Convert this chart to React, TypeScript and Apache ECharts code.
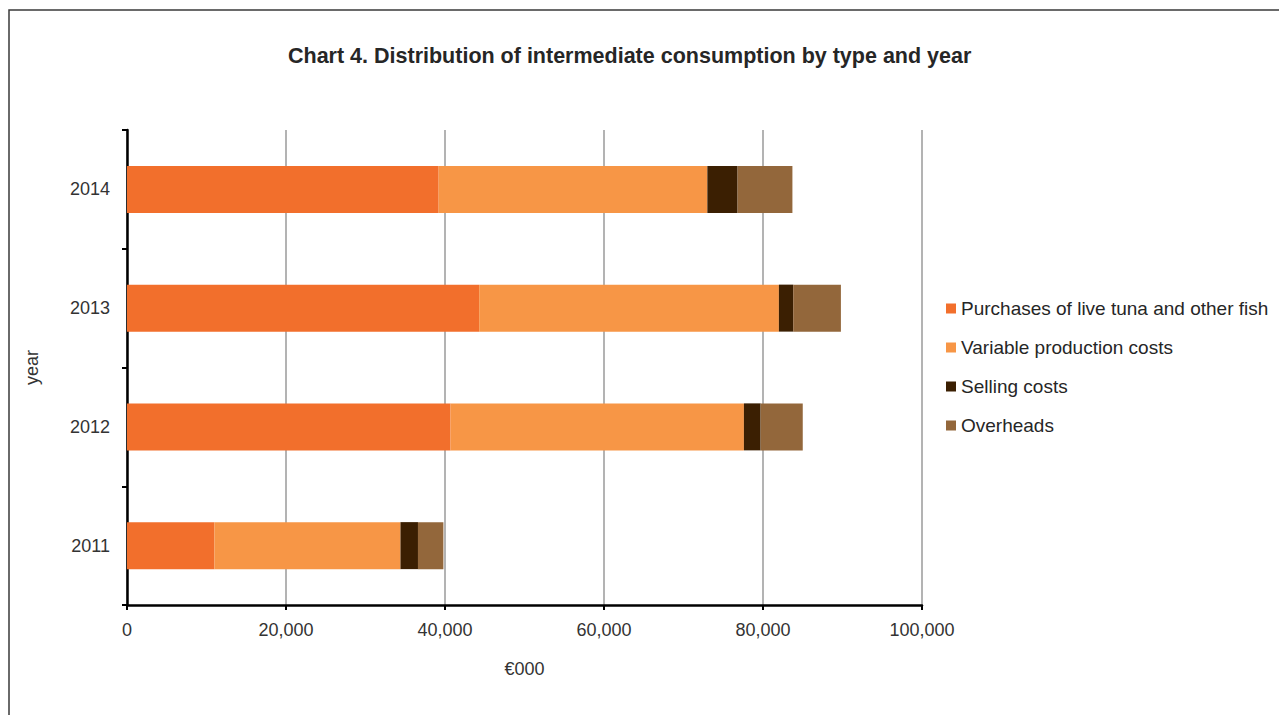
import React, { useEffect, useRef } from "react";
import * as echarts from "echarts";

// Intermediate consumption by type, € thousand
const years = ["2011", "2012", "2013", "2014"];
const purchases = [11000, 40700, 44300, 39200];
const variableCosts = [23400, 36900, 37700, 33800];
const sellingCosts = [2200, 2100, 1800, 3800];
const overheads = [3200, 5300, 6000, 6900];

const seriesNames = [
  "Purchases of live tuna and other fish",
  "Variable production costs",
  "Selling costs",
  "Overheads",
];
const seriesColors = ["#F26F2C", "#F79646", "#3B1F02", "#93673B"];

const FONT = "'Liberation Sans', Arial, sans-serif";

export default function App() {
  const ref = useRef<HTMLDivElement>(null);

  useEffect(() => {
    if (!ref.current) return;
    const chart = echarts.init(ref.current, null, { renderer: "svg" });
    const values = [purchases, variableCosts, sellingCosts, overheads];

    chart.setOption({
      animation: false,
      backgroundColor: "#ffffff",
      textStyle: { fontFamily: FONT },
      title: {
        text: "Chart 4. Distribution of intermediate consumption by type and year",
        left: 283,
        top: 40,
        textStyle: { fontFamily: FONT, fontSize: 21.5, fontWeight: "bold", color: "#262626" },
      },
      graphic: [
        {
          type: "rect",
          shape: { x: 9, y: 10, width: 1400, height: 900 },
          style: { fill: "none", stroke: "#3a3a3a", lineWidth: 1.5 },
          silent: true,
          z: -1,
        },
      ],
      legend: {
        orient: "vertical",
        left: 941,
        top: 294,
        itemWidth: 10,
        itemHeight: 10,
        itemGap: 20,
        icon: "rect",
        data: seriesNames,
        textStyle: { fontFamily: FONT, fontSize: 19, color: "#262626" },
      },
      grid: { left: 127, right: 357, top: 130, bottom: 110, containLabel: false },
      xAxis: {
        type: "value",
        min: 0,
        max: 100000,
        interval: 20000,
        name: "€000",
        nameLocation: "middle",
        nameGap: 55,
        nameTextStyle: { fontFamily: FONT, fontSize: 18, color: "#333" },
        axisLine: { show: true, lineStyle: { color: "#000", width: 2.5 } },
        axisTick: { show: true, length: 5, lineStyle: { color: "#000", width: 2 } },
        axisLabel: {
          margin: 16,
          fontFamily: FONT,
          fontSize: 18,
          color: "#333",
          formatter: (v: number) => v.toLocaleString("en-US"),
        },
        splitLine: { show: true, lineStyle: { color: "#9a9a9a", width: 1.5 } },
      },
      yAxis: {
        type: "category",
        data: years,
        name: "year",
        nameLocation: "middle",
        nameGap: 86,
        nameRotate: 90,
        nameTextStyle: { fontFamily: FONT, fontSize: 18, color: "#333" },
        axisLine: { show: true, lineStyle: { color: "#000", width: 2.5 } },
        axisTick: { show: true, length: 5, lineStyle: { color: "#000", width: 2 } },
        axisLabel: { margin: 17, fontFamily: FONT, fontSize: 18, color: "#333" },
        splitLine: { show: false },
      },
      series: seriesNames.map((name, i) => ({
        name,
        type: "bar",
        stack: "total",
        barWidth: 47,
        data: values[i],
        itemStyle: { color: seriesColors[i] },
      })),
    });

    return () => chart.dispose();
  }, []);

  return (
    <div
      ref={ref}
      style={{ position: "fixed", left: 0, top: 0, width: 1279, height: 715 }}
    />
  );
}
